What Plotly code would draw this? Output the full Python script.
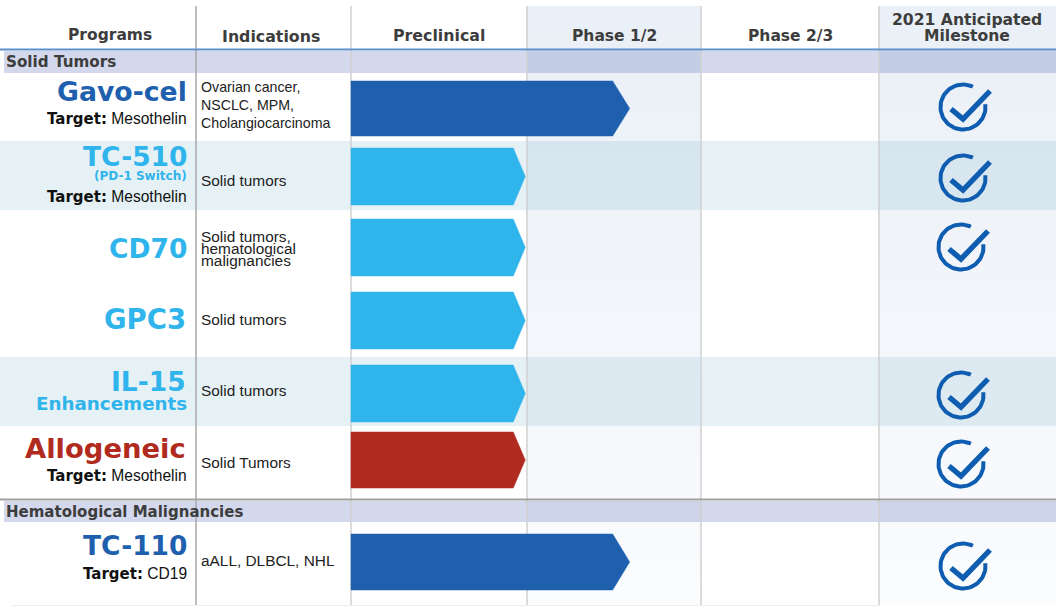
import math
import plotly.graph_objects as go

# ---- data ----
stages = ["Preclinical", "Phase 1/2", "Phase 2/3"]
milestone_header = ["2021 Anticipated", "Milestone"]
groups = ["Solid Tumors", "Hematological Malignancies"]
programs = ["Gavo-cel", "TC-510", "CD70", "GPC3", "IL-15", "Allogeneic", "TC-110"]
sublabels = ["", "(PD-1 Switch)", "", "", "Enhancements", "", ""]
targets = ["Mesothelin", "Mesothelin", "", "", "", "Mesothelin", "CD19"]
indications = [
    ["Ovarian cancer,", "NSCLC, MPM,", "Cholangiocarcinoma"],
    ["Solid tumors"],
    ["Solid tumors,", "hematological", "malignancies"],
    ["Solid tumors"],
    ["Solid tumors"],
    ["Solid Tumors"],
    ["aALL, DLBCL, NHL"],
]
progress = [1.59, 0.99, 0.99, 0.99, 0.99, 0.99, 1.59]   # stages completed
milestone = [1, 1, 1, 0, 1, 1, 1]

# ---- layout ----
W, H = 1056, 613
DARK, SKY, RED = "#1f60ae", "#30b4ec", "#b02a20"
colors = [DARK, SKY, SKY, SKY, SKY, RED, DARK]
col_x = [196, 351, 527, 701, 879]
stage_edges = [351, 527, 701, 879]
top, bottom = 6, 605
bar_y = [(81, 136), (148, 205), (219, 276), (292, 349), (365, 422), (432, 488), (534, 590)]
notches = [17, 12, 12, 12, 12, 12, 17]
teal_rows = [(141, 210), (357, 426)]
bands = [(51, 73), (501, 522)]
title_y = [91, 156, 248, 319, 381, 448, 545]
title_size = [26.7, 26.5, 26.5, 27.5, 26.5, 27.4, 26.5]
title_x = [188.5, 189, 189, 188, 188, 188, 189]
sub_y = [None, 176, None, None, 403, None, None]
sub_size = [0, 12, 0, 0, 18.3, 0, 0]
target_y = [119, 197, None, None, None, 476, 574]
ind_y = [[87, 105, 123], [180.5], [236, 248, 260], [319.5], [390.5], [462.5], [560.5]]
ind_size = [14.2, 15.4, 15.4, 15.4, 15.4, 15.4, 15.4]
check_c = [(963, 107), (963, 178), (961, 247), (961, 320), (961, 395), (961, 464), (963, 566)]
HEAD = "Liberation Sans"
WIDE = "DejaVu Sans"


def stage_x(p):
    i = min(int(p), len(stage_edges) - 2)
    return stage_edges[i] + (p - i) * (stage_edges[i + 1] - stage_edges[i])


fig = go.Figure()
shapes = []


def rect(x0, y0, x1, y1, color, opacity=1.0):
    shapes.append(dict(type="rect", x0=x0, x1=x1, y0=y0, y1=y1, fillcolor=color,
                       opacity=opacity, line_width=0, layer="below"))


def line(x0, y0, x1, y1, color, width):
    shapes.append(dict(type="line", x0=x0, x1=x1, y0=y0, y1=y1,
                       line=dict(color=color, width=width), layer="below"))


for y0, y1 in teal_rows:
    rect(0, y0, W, y1, "#e6f1f5")
for y0, y1 in bands:
    rect(4, y0, W, y1, "#d3d8ec")
# tinted columns, fading downward
n = 24
for k in range(n):
    y0 = top + (bottom - top) * k / n
    y1 = top + (bottom - top) * (k + 1) / n
    op = 0.105 - 0.08 * k / (n - 1)
    for x0, x1 in ((col_x[2], col_x[3]), (col_x[4], W)):
        rect(x0, y0, x1, y1, "#3a6db5", op)
for i, x in enumerate(col_x):
    line(x, top, x, bottom, "#a8a8a8" if i == 0 else "#d0d0d0", 1.5)
line(0, 49.5, W, 49.5, "#5d8fca", 1.8)
line(0, 499.5, W, 499.5, "#a0a0a0", 1.8)
line(12, 605.5, 880, 605.5, "#eeeeee", 1)

# chevrons
for i, p in enumerate(progress):
    y0, y1 = bar_y[i]
    tip = stage_x(p)
    notch = notches[i]
    fig.add_trace(go.Scatter(
        x=[stage_edges[0], tip - notch, tip, tip - notch, stage_edges[0], stage_edges[0]],
        y=[y0, y0, (y0 + y1) / 2, y1, y1, y0],
        mode="lines", fill="toself", fillcolor=colors[i], line=dict(color=colors[i], width=0.5),
        hoverinfo="skip", showlegend=False, name=programs[i]))

# check marks
CK = "#0f5db0"
for i, m in enumerate(milestone):
    if not m:
        continue
    cx, cy = check_c[i]
    r = 22.5
    steps = 60
    a0, a1 = -7, -7 + 303
    ax = [cx + r * math.cos(math.radians(a0 + (a1 - a0) * s / steps)) for s in range(steps + 1)]
    ay = [cy + r * math.sin(math.radians(a0 + (a1 - a0) * s / steps)) for s in range(steps + 1)]
    fig.add_trace(go.Scatter(x=ax, y=ay, mode="lines", line=dict(color=CK, width=4),
                             hoverinfo="skip", showlegend=False))
    fig.add_trace(go.Scatter(x=[cx - 12, cx, cx + 27], y=[cy + 2, cy + 12, cy - 16], mode="lines",
                             line=dict(color=CK, width=5.4), hoverinfo="skip", showlegend=False))

ann = []


def text(x, y, s, size, color="#222222", family=HEAD, anchor="left"):
    ann.append(dict(x=x, y=y, text=s, showarrow=False, xanchor=anchor, yanchor="middle",
                    font=dict(size=size, color=color, family=family)))


hdr = "#3d3d3d"
text(110, 35, "<b>Programs</b>", 15.5, hdr, WIDE, "center")
text(271, 36, "<b>Indications</b>", 15.8, hdr, WIDE, "center")
for j, s in enumerate(stages):
    xc = [439, 614, 790][j]
    text(xc, 35 if j == 0 else 36, "<b>%s</b>" % s, 15.8 if j == 0 else 15.5, hdr, WIDE, "center")
text(967, 20, "<b>%s</b>" % milestone_header[0], 15.6, hdr, WIDE, "center")
text(967, 36, "<b>%s</b>" % milestone_header[1], 15.6, hdr, WIDE, "center")
text(4, 62, "<b>%s</b>" % groups[0], 15.2, hdr, WIDE)
text(4, 512, "<b>%s</b>" % groups[1], 15, hdr, WIDE)

for i, name in enumerate(programs):
    text(title_x[i], title_y[i], "<b>%s</b>" % name, title_size[i], colors[i], WIDE, "right")
    if sublabels[i]:
        text(188.5, sub_y[i], "<b>%s</b>" % sublabels[i], sub_size[i], colors[i], WIDE, "right")
    if targets[i]:
        text(188.5, target_y[i],
             "<span style=\"font-family:'DejaVu Sans';font-size:15px;font-weight:bold\">Target:</span> %s" % targets[i],
             15.6, "#111111", HEAD, "right")
    for yy, s in zip(ind_y[i], indications[i]):
        text(198.5, yy, s, ind_size[i], "#222222", HEAD)

fig.update_layout(
    width=W, height=H, margin=dict(l=0, r=0, t=0, b=0),
    paper_bgcolor="white", plot_bgcolor="white", showlegend=False,
    xaxis=dict(range=[0, W], visible=False, fixedrange=True),
    yaxis=dict(range=[H, 0], visible=False, fixedrange=True),
    shapes=shapes, annotations=ann,
)
fig.write_html("out.html", post_script="document.body.style.margin='0';", config={"displayModeBar": False})
